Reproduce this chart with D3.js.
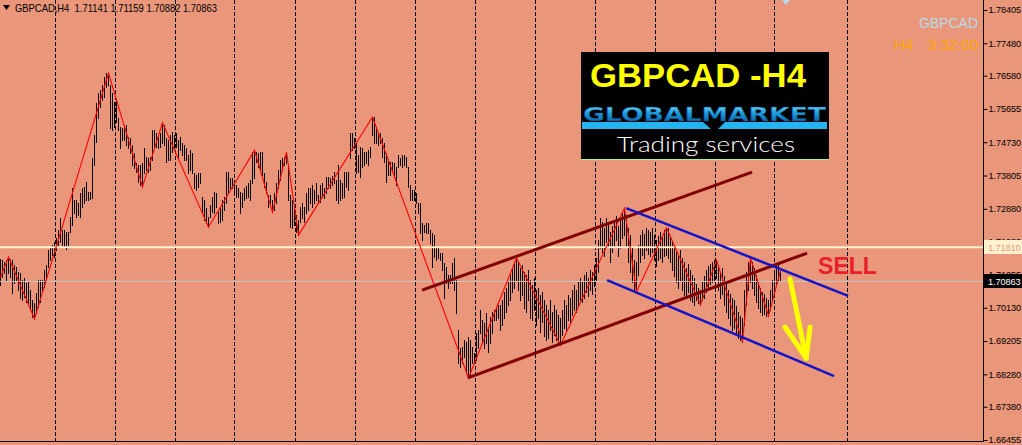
<!DOCTYPE html>
<html><head><meta charset="utf-8">
<script src="https://cdn.jsdelivr.net/npm/d3@7"></script>
<style>html,body{margin:0;padding:0;background:#E9967A;overflow:hidden}</style>
</head><body><svg id="c" width="1022" height="445"></svg>
<script>
// ---- data (prices) ----
const highs=[
1.7149,1.7146,1.7140,1.7146,1.7154,1.7149,1.7146,1.7132,1.7126,1.7112,
1.7110,1.7090,1.7096,1.7082,1.7085,1.7062,1.7035,1.7026,1.7054,1.7090,
1.7090,1.7090,1.7118,1.7132,1.7174,1.7179,1.7187,1.7196,1.7207,1.7229,
1.7262,1.7229,1.7229,1.7224,1.7224,1.7265,1.7346,1.7312,1.7312,1.7304,
1.7332,1.7346,1.7349,1.7362,1.7335,1.7335,1.7429,1.7493,1.7582,1.7610,
1.7618,1.7632,1.7654,1.7665,1.7665,1.7632,1.7610,1.7585,1.7590,1.7540,
1.7515,1.7513,1.7521,1.7521,1.7488,1.7485,1.7465,1.7443,1.7415,1.7410,
1.7410,1.7415,1.7457,1.7432,1.7429,1.7432,1.7507,1.7507,1.7499,1.7488,
1.7499,1.7527,1.7521,1.7485,1.7479,1.7493,1.7501,1.7493,1.7499,1.7479,
1.7488,1.7471,1.7465,1.7457,1.7438,1.7451,1.7443,1.7388,1.7382,1.7388,
1.7388,1.7321,1.7312,1.7290,1.7265,1.7299,1.7321,1.7335,1.7332,1.7279,
1.7293,1.7312,1.7321,1.7390,1.7390,1.7374,1.7374,1.7368,1.7354,1.7346,
1.7335,1.7332,1.7346,1.7351,1.7360,1.7368,1.7446,1.7451,1.7446,1.7443,
1.7446,1.7446,1.7388,1.7362,1.7326,1.7326,1.7312,1.7332,1.7360,1.7396,
1.7424,1.7429,1.7432,1.7446,1.7410,1.7326,1.7312,1.7293,1.7271,1.7257,
1.7293,1.7304,1.7293,1.7332,1.7346,1.7346,1.7354,1.7340,1.7360,1.7326,
1.7354,1.7360,1.7346,1.7376,1.7376,1.7374,1.7379,1.7390,1.7368,1.7410,
1.7368,1.7360,1.7390,1.7390,1.7390,1.7499,1.7499,1.7485,1.7474,1.7438,
1.7460,1.7457,1.7446,1.7446,1.7451,1.7460,1.7543,1.7543,1.7515,1.7499,
1.7499,1.7485,1.7471,1.7443,1.7424,1.7418,1.7418,1.7415,1.7404,1.7438,
1.7429,1.7438,1.7438,1.7432,1.7404,1.7354,1.7340,1.7340,1.7332,1.7304,
1.7304,1.7249,1.7243,1.7249,1.7249,1.7229,1.7221,1.7215,1.7182,1.7179,
1.7165,1.7165,1.7137,1.7126,1.7104,1.7104,1.7137,1.7151,1.7090,1.6951,
1.6901,1.6904,1.6923,1.6918,1.6932,1.6923,1.6904,1.6887,1.6943,1.6951,
1.7007,1.6979,1.6971,1.6998,1.6959,1.6987,1.7001,1.7007,1.7012,1.7021,
1.7021,1.7035,1.7057,1.7068,1.7085,1.7104,1.7124,1.7140,1.7151,1.7140,
1.7124,1.7132,1.7112,1.7104,1.7118,1.7090,1.7076,1.7096,1.7062,1.7068,
1.7048,1.7057,1.7035,1.7021,1.7007,1.7035,1.7001,1.7021,1.7007,1.6993,
1.6985,1.7007,1.7035,1.7021,1.7048,1.7040,1.7062,1.7076,1.7062,1.7085,
1.7096,1.7085,1.7104,1.7112,1.7096,1.7118,1.7112,1.7132,1.7151,1.7201,
1.7262,1.7251,1.7235,1.7262,1.7251,1.7224,1.7240,1.7257,1.7268,1.7240,
1.7257,1.7279,1.7290,1.7271,1.7235,1.7215,1.7179,1.7146,1.7140,1.7187,
1.7215,1.7229,1.7218,1.7235,1.7229,1.7224,1.7235,1.7215,1.7201,1.7212,
1.7224,1.7212,1.7229,1.7235,1.7235,1.7212,1.7196,1.7185,1.7168,1.7157,
1.7174,1.7151,1.7140,1.7124,1.7135,1.7118,1.7104,1.7096,1.7079,1.7068,
1.7062,1.7085,1.7101,1.7118,1.7129,1.7135,1.7140,1.7146,1.7146,1.7129,
1.7112,1.7124,1.7101,1.7079,1.7062,1.7051,1.7040,1.7035,1.7018,1.7001,
1.6990,1.6985,1.7062,1.7112,1.7140,1.7151,1.7140,1.7124,1.7104,1.7085,
1.7068,1.7057,1.7051,1.7040,1.7035,1.7062,1.7090,1.7112,1.7132,1.7140,
1.7116];
const lows=[
1.7076,1.7098,1.7110,1.7090,1.7110,1.7098,1.7054,1.7082,1.7090,1.7062,
1.7040,1.7035,1.7043,1.7029,1.7026,1.7007,1.6987,1.6982,1.6998,1.7015,
1.7029,1.7062,1.7071,1.7096,1.7126,1.7146,1.7160,1.7154,1.7174,1.7182,
1.7196,1.7187,1.7182,1.7176,1.7187,1.7224,1.7243,1.7276,1.7265,1.7271,
1.7265,1.7293,1.7304,1.7312,1.7312,1.7315,1.7318,1.7410,1.7474,1.7540,
1.7571,1.7590,1.7599,1.7626,1.7632,1.7513,1.7507,1.7515,1.7529,1.7507,
1.7457,1.7479,1.7479,1.7465,1.7457,1.7443,1.7410,1.7401,1.7390,1.7362,
1.7354,1.7349,1.7388,1.7396,1.7390,1.7396,1.7424,1.7457,1.7460,1.7457,
1.7460,1.7471,1.7465,1.7418,1.7424,1.7424,1.7446,1.7457,1.7460,1.7432,
1.7451,1.7438,1.7424,1.7424,1.7388,1.7396,1.7388,1.7346,1.7340,1.7349,
1.7360,1.7276,1.7257,1.7249,1.7237,1.7265,1.7279,1.7276,1.7293,1.7249,
1.7251,1.7257,1.7285,1.7304,1.7332,1.7346,1.7346,1.7335,1.7321,1.7321,
1.7276,1.7293,1.7312,1.7318,1.7321,1.7312,1.7360,1.7374,1.7418,1.7404,
1.7396,1.7382,1.7349,1.7332,1.7293,1.7304,1.7279,1.7285,1.7304,1.7346,
1.7368,1.7396,1.7410,1.7415,1.7312,1.7237,1.7235,1.7243,1.7224,1.7215,
1.7251,1.7262,1.7251,1.7276,1.7285,1.7304,1.7293,1.7304,1.7312,1.7304,
1.7307,1.7321,1.7318,1.7332,1.7346,1.7346,1.7354,1.7360,1.7312,1.7304,
1.7312,1.7318,1.7321,1.7349,1.7340,1.7429,1.7451,1.7457,1.7388,1.7390,
1.7376,1.7404,1.7410,1.7415,1.7410,1.7432,1.7493,1.7471,1.7471,1.7465,
1.7471,1.7432,1.7418,1.7362,1.7382,1.7382,1.7396,1.7376,1.7354,1.7404,
1.7410,1.7404,1.7410,1.7404,1.7349,1.7312,1.7312,1.7312,1.7304,1.7276,
1.7221,1.7201,1.7224,1.7221,1.7221,1.7193,1.7126,1.7154,1.7146,1.7151,
1.7146,1.7118,1.7040,1.7082,1.7068,1.7082,1.7082,1.7062,1.6998,1.6860,
1.6848,1.6860,1.6876,1.6832,1.6818,1.6826,1.6860,1.6860,1.6868,1.6901,
1.6943,1.6915,1.6901,1.6915,1.6890,1.6915,1.6943,1.6979,1.6979,1.6985,
1.6951,1.6965,1.6985,1.7001,1.7021,1.7035,1.7057,1.7068,1.7090,1.7062,
1.7035,1.7048,1.7012,1.7001,1.7035,1.6985,1.6979,1.7007,1.6965,1.6985,
1.6946,1.6973,1.6934,1.6923,1.6929,1.6951,1.6918,1.6937,1.6923,1.6915,
1.6909,1.6937,1.6957,1.6951,1.6979,1.6973,1.6993,1.7007,1.7001,1.7021,
1.7035,1.7029,1.7040,1.7057,1.7046,1.7062,1.7051,1.7073,1.7090,1.7112,
1.7179,1.7168,1.7157,1.7196,1.7185,1.7140,1.7168,1.7185,1.7201,1.7157,
1.7179,1.7207,1.7215,1.7185,1.7140,1.7112,1.7085,1.7062,1.7057,1.7104,
1.7140,1.7160,1.7151,1.7174,1.7162,1.7157,1.7168,1.7146,1.7129,1.7146,
1.7151,1.7140,1.7157,1.7160,1.7151,1.7140,1.7118,1.7101,1.7085,1.7068,
1.7090,1.7062,1.7048,1.7040,1.7057,1.7035,1.7029,1.7021,1.7035,1.7026,
1.7021,1.7035,1.7040,1.7057,1.7068,1.7079,1.7085,1.7090,1.7096,1.7062,
1.7040,1.7051,1.7021,1.7001,1.6985,1.6965,1.6951,1.6957,1.6940,1.6929,
1.6923,1.6918,1.6965,1.7021,1.7062,1.7085,1.7068,1.7048,1.7029,1.7012,
1.7001,1.6993,1.6996,1.6990,1.6990,1.7007,1.7035,1.7057,1.7076,1.7090,
1.7086];
const priceTicks=[1.78405,1.77480,1.76580,1.75655,1.74730,1.73805,1.72880,1.71980,1.71055,1.70130,1.69205,1.68280,1.67380,1.66455];
const gridBars=[27,57,87,117,147,177,207,237,267,297,327,357,387,423];
const zigzagBars=[0,4,17,54,71,81,104,127,136,143,149,186,234,258,280,312,318,333,350,358,371,375,384,390];
const zigzagPrices=[1.7098,1.7154,1.6982,1.7665,1.7349,1.7527,1.7237,1.7451,1.7279,1.7446,1.7215,1.7543,1.6818,1.7151,1.6909,1.7290,1.7057,1.7235,1.7021,1.7146,1.6918,1.7151,1.6990,1.7116];
// trend lines: [bar1, price1, bar2, price2]
const channelRed=[[233.7,1.6818,403.3,1.7165],[210.8,1.7062,375.8,1.7390]];
const channelBlue=[[312.8,1.7290,423.8,1.7046],[303.3,1.7090,416.8,1.6823]];
const arrowShaft=[[394.8,1.7093],[402.8,1.6873]];
const arrowHead=[[392.3,1.6959],[402.8,1.6873],[404.8,1.6959]];
const levelLine=1.71810, bidLine=1.70863;
const headerText="GBPCAD,H4\u00a0\u00a01.71141 1.71159 1.70882 1.70863";
const sellPos=[408.8,1.7107];

// ---- drawing ----
const svg=d3.select("#c");
const plotR=983, plotB=441;
const x=d3.scaleLinear().domain([0,491.5]).range([0.5,983.5]);
const y=d3.scaleLinear().domain([1.66455,1.78405]).range([440,10]);
const SANS="Liberation Sans, Arial, sans-serif";

svg.append("rect").attr("width",1022).attr("height",445).attr("fill","#E9967A");
const defs=svg.append("defs");
defs.append("clipPath").attr("id","plot").append("rect").attr("x",0).attr("y",0).attr("width",plotR).attr("height",plotB);
const g=svg.append("g").attr("clip-path","url(#plot)");

// grid
g.selectAll("line.grid").data(gridBars).join("line")
 .attr("x1",d=>Math.round(x(d))+0.5).attr("x2",d=>Math.round(x(d))+0.5)
 .attr("y1",0).attr("y2",plotB).attr("stroke","#000").attr("stroke-width",1)
 .attr("stroke-dasharray","4,2");

// bars
g.selectAll("line.bar").data(highs).join("line")
 .attr("x1",(d,i)=>x(i)).attr("x2",(d,i)=>x(i))
 .attr("y1",d=>Math.round(y(d))).attr("y2",(d,i)=>Math.round(y(lows[i]))+1)
 .attr("stroke","#000").attr("stroke-width",1);

// level lines
g.append("line").attr("x1",0).attr("x2",plotR).attr("y1",y(bidLine)).attr("y2",y(bidLine))
 .attr("stroke","#C8C8C8").attr("stroke-width",1);
g.append("line").attr("x1",0).attr("x2",plotR).attr("y1",y(levelLine)).attr("y2",y(levelLine))
 .attr("stroke","#FFF3CF").attr("stroke-width",2);

// zigzag
g.append("path").datum(zigzagBars.map((b,i)=>[b,zigzagPrices[i]]))
 .attr("d",d3.line().x(d=>x(d[0])).y(d=>y(d[1])))
 .attr("fill","none").attr("stroke","#FF0000").attr("stroke-width",1.1);

// channels
g.selectAll("line.cr").data(channelRed).join("line")
 .attr("x1",d=>x(d[0])).attr("y1",d=>y(d[1])).attr("x2",d=>x(d[2])).attr("y2",d=>y(d[3]))
 .attr("stroke","#800000").attr("stroke-width",3);
g.selectAll("line.cb").data(channelBlue).join("line")
 .attr("x1",d=>x(d[0])).attr("y1",d=>y(d[1])).attr("x2",d=>x(d[2])).attr("y2",d=>y(d[3]))
 .attr("stroke","#1414C8").attr("stroke-width",2.5);

// logo box
const lg=svg.append("g");
lg.append("rect").attr("x",581).attr("y",52).attr("width",248).attr("height",107).attr("fill","#000");
lg.append("line").attr("x1",581).attr("x2",829).attr("y1",159.5).attr("y2",159.5).attr("stroke","#9EF09E").attr("stroke-width",1);
lg.append("text").attr("x",590).attr("y",87).text("GBPCAD -H4")
 .attr("font-family",SANS).attr("font-weight","bold").attr("font-size",34)
 .attr("fill","#FFFF00").attr("textLength",216).attr("lengthAdjust","spacingAndGlyphs");
const gr=defs.append("linearGradient").attr("id","gm").attr("x1",0).attr("x2",0).attr("y1",0).attr("y2",1);
gr.append("stop").attr("offset","0%").attr("stop-color","#8EE6FF");
gr.append("stop").attr("offset","45%").attr("stop-color","#1E9FE0");
gr.append("stop").attr("offset","100%").attr("stop-color","#0A4E96");
lg.append("text").attr("x",583).attr("y",121).text("GLOBALMARKET")
 .attr("font-family","DejaVu Sans, sans-serif").attr("font-weight","bold").attr("font-size",19)
 .attr("fill","url(#gm)").attr("stroke","#063a70").attr("stroke-width",0.4)
 .attr("textLength",243).attr("lengthAdjust","spacingAndGlyphs");
lg.append("path").attr("d","M582,122 L703,122 L711,129 L582,129 Z M718,129 L725,122 L827,122 L827,129 Z")
 .attr("fill","#26B4F0");
lg.append("text").attr("x",617).attr("y",152).text("Trading services")
 .attr("font-family","Lato, Open Sans, sans-serif").attr("font-weight",300).attr("font-size",21)
 .attr("fill","#FFFFFF").attr("textLength",178).attr("lengthAdjust","spacingAndGlyphs");

// arrow
svg.append("path").datum(arrowShaft).attr("d",d3.line().x(d=>x(d[0])).y(d=>y(d[1])))
 .attr("stroke","#FFFF00").attr("stroke-width",5).attr("stroke-linecap","round").attr("fill","none");
svg.append("path").datum(arrowHead).attr("d",d3.line().x(d=>x(d[0])).y(d=>y(d[1])))
 .attr("stroke","#FFFF00").attr("stroke-width",5).attr("stroke-linecap","round").attr("stroke-linejoin","round").attr("fill","none");

// SELL
svg.append("text").attr("x",x(sellPos[0])).attr("y",y(sellPos[1])).text("SELL")
 .attr("font-family",SANS).attr("font-weight","bold").attr("font-size",23)
 .attr("fill","#E8202A");

// header
svg.append("path").attr("d","M3,5 L10,5 L6.5,10 Z").attr("fill","#000");
svg.append("text").attr("x",15).attr("y",12).text(headerText)
 .attr("font-family",SANS).attr("font-size",10.5).attr("fill","#000")
 .attr("textLength",202).attr("lengthAdjust","spacingAndGlyphs");

// top right labels
svg.append("text").attr("x",978).attr("y",28).attr("text-anchor","end").text("GBPCAD")
 .attr("font-family",SANS).attr("font-size",14).attr("fill","#B4DCE6");
svg.append("text").attr("x",894).attr("y",50).text("H4")
 .attr("font-family",SANS).attr("font-size",15).attr("fill","#FFA500");
svg.append("text").attr("x",978).attr("y",50).attr("text-anchor","end").text("3:32:00")
 .attr("font-family",SANS).attr("font-size",15).attr("fill","#FFA500");
svg.append("path").attr("d","M782,0 L790,0 L786,5 Z").attr("fill","#B8D4EC");

// frame
svg.append("line").attr("x1",plotR+0.5).attr("x2",plotR+0.5).attr("y1",0).attr("y2",plotB+1).attr("stroke","#000");
svg.append("line").attr("x1",0).attr("x2",plotR+1).attr("y1",plotB+0.5).attr("y2",plotB+0.5).attr("stroke","#000");

// price axis
const ax=svg.append("g").attr("transform",`translate(${plotR+0.5},0)`)
 .call(d3.axisRight(y).tickValues(priceTicks).tickSize(4).tickSizeOuter(0).tickPadding(1).tickFormat(d3.format(".5f")));
ax.select(".domain").remove();
ax.selectAll("text").attr("font-family",SANS).attr("font-size",9.2).attr("letter-spacing",-0.1).attr("fill","#000");
ax.selectAll("line").attr("stroke","#000");

// price labels
function priceLabel(p,bg,fg){
  const yy=Math.round(y(p));
  svg.append("rect").attr("x",plotR+1).attr("y",yy-7).attr("width",40).attr("height",14).attr("fill",bg);
  svg.append("text").attr("x",plotR+5).attr("y",yy+3.5).text(d3.format(".5f")(p))
   .attr("font-family",SANS).attr("font-size",9.2).attr("letter-spacing",-0.1).attr("fill",fg);
}
priceLabel(levelLine,"#FFF3CF","#E9967A");
priceLabel(bidLine,"#000000","#FFFFFF");
</script></body></html>
